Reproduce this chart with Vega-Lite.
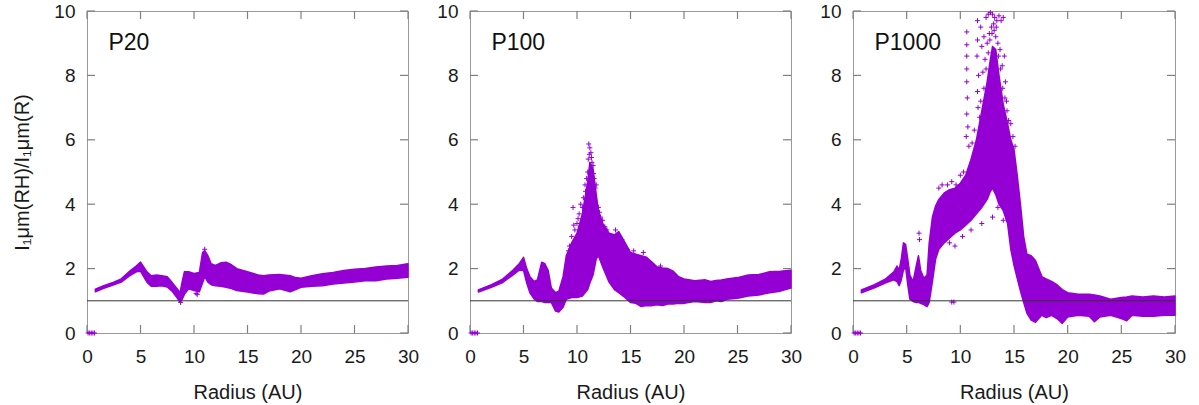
{
  "$schema": "https://vega.github.io/schema/vega-lite/v6.json",
  "background": "white",
  "padding": {"left": 12, "top": 1, "right": 10, "bottom": 5},
  "spacing": 62,
  "bounds": "flush",
  "config": {
    "view": {"stroke": "#999999", "strokeWidth": 1},
    "axis": {"labelFont": "Liberation Sans", "titleFont": "Liberation Sans", "labelFontSize": 19, "titleFontSize": 20, "titleFontWeight": "normal", "labelColor": "#1a1a1a", "titleColor": "#1a1a1a", "ticks": false, "tickSize": 0, "labelFlush": false, "domain": false, "grid": false}
  },
  "datasets": {
    "tx": [{"t":0},{"t":5},{"t":10},{"t":15},{"t":20},{"t":25},{"t":30}],
    "ty": [{"t":0},{"t":2},{"t":4},{"t":6},{"t":8},{"t":10}],
    "band20": [
      {"r":0.78,"lo":1.28,"hi":1.36},{"r":1.5,"lo":1.38,"hi":1.46},{"r":2.5,"lo":1.5,"hi":1.58},{"r":3.2,"lo":1.58,"hi":1.68},{"r":4.0,"lo":1.78,"hi":1.92},{"r":4.6,"lo":1.9,"hi":2.08},{"r":5.0,"lo":1.92,"hi":2.2},{"r":5.3,"lo":1.75,"hi":2.05},{"r":5.6,"lo":1.58,"hi":1.9},{"r":6.0,"lo":1.45,"hi":1.78},{"r":6.5,"lo":1.45,"hi":1.8},{"r":7.0,"lo":1.47,"hi":1.78},{"r":7.5,"lo":1.43,"hi":1.75},{"r":8.0,"lo":1.28,"hi":1.55},{"r":8.4,"lo":1.1,"hi":1.38},{"r":8.7,"lo":0.96,"hi":1.25},{"r":8.9,"lo":1.05,"hi":1.6},{"r":9.1,"lo":1.2,"hi":1.9},{"r":9.5,"lo":1.37,"hi":1.9},{"r":10.0,"lo":1.32,"hi":1.85},{"r":10.5,"lo":1.28,"hi":1.88},{"r":10.8,"lo":1.55,"hi":2.5},{"r":11.0,"lo":1.75,"hi":2.56},{"r":11.3,"lo":1.58,"hi":2.4},{"r":11.6,"lo":1.5,"hi":2.15},{"r":12.0,"lo":1.47,"hi":2.1},{"r":12.5,"lo":1.45,"hi":2.18},{"r":13.0,"lo":1.42,"hi":2.2},{"r":13.5,"lo":1.38,"hi":2.12},{"r":14.0,"lo":1.32,"hi":2.0},{"r":15.0,"lo":1.27,"hi":1.9},{"r":16.0,"lo":1.22,"hi":1.8},{"r":16.5,"lo":1.21,"hi":1.78},{"r":17.0,"lo":1.3,"hi":1.8},{"r":18.0,"lo":1.37,"hi":1.82},{"r":19.0,"lo":1.28,"hi":1.78},{"r":19.5,"lo":1.35,"hi":1.72},{"r":20.0,"lo":1.42,"hi":1.7},{"r":21.0,"lo":1.45,"hi":1.78},{"r":22.0,"lo":1.47,"hi":1.84},{"r":23.0,"lo":1.52,"hi":1.88},{"r":24.0,"lo":1.55,"hi":1.94},{"r":25.0,"lo":1.58,"hi":1.98},{"r":26.0,"lo":1.62,"hi":2.0},{"r":27.0,"lo":1.62,"hi":2.05},{"r":28.0,"lo":1.68,"hi":2.08},{"r":29.0,"lo":1.7,"hi":2.1},{"r":30.0,"lo":1.73,"hi":2.15}
    ],
    "pts20": [
      {"r":0.1,"v":0},{"r":0.25,"v":0},{"r":0.4,"v":0},{"r":0.55,"v":0},{"r":0.7,"v":0},
      {"r":10.3,"v":1.2},{"r":10.2,"v":1.23},{"r":8.75,"v":0.95},{"r":11.0,"v":2.6}
    ],
    "band100": [
      {"r":0.78,"lo":1.27,"hi":1.34},{"r":2.0,"lo":1.42,"hi":1.5},{"r":3.0,"lo":1.56,"hi":1.66},{"r":4.0,"lo":1.8,"hi":1.95},{"r":4.6,"lo":1.95,"hi":2.15},{"r":5.0,"lo":1.95,"hi":2.35},{"r":5.3,"lo":1.55,"hi":2.0},{"r":5.6,"lo":1.25,"hi":1.75},{"r":6.0,"lo":1.05,"hi":1.6},{"r":6.3,"lo":0.98,"hi":1.65},{"r":6.7,"lo":0.98,"hi":2.2},{"r":7.0,"lo":0.95,"hi":2.15},{"r":7.3,"lo":0.95,"hi":1.95},{"r":7.6,"lo":0.95,"hi":1.4},{"r":8.0,"lo":0.68,"hi":1.25},{"r":8.3,"lo":0.65,"hi":1.3},{"r":8.7,"lo":0.8,"hi":1.75},{"r":9.0,"lo":1.05,"hi":2.4},{"r":9.5,"lo":1.1,"hi":2.8},{"r":10.0,"lo":1.1,"hi":3.1},{"r":10.5,"lo":1.15,"hi":3.7},{"r":11.0,"lo":1.35,"hi":4.7},{"r":11.2,"lo":1.55,"hi":5.3},{"r":11.5,"lo":1.8,"hi":5.1},{"r":11.8,"lo":2.3,"hi":4.3},{"r":12.0,"lo":2.4,"hi":3.8},{"r":12.4,"lo":2.05,"hi":3.4},{"r":13.0,"lo":1.58,"hi":3.1},{"r":13.5,"lo":1.35,"hi":3.05},{"r":13.9,"lo":1.25,"hi":3.15},{"r":14.5,"lo":1.1,"hi":2.8},{"r":15.0,"lo":0.95,"hi":2.5},{"r":15.5,"lo":0.92,"hi":2.45},{"r":16.0,"lo":0.82,"hi":2.4},{"r":16.5,"lo":0.85,"hi":2.35},{"r":17.0,"lo":0.85,"hi":2.2},{"r":17.5,"lo":0.88,"hi":2.05},{"r":18.0,"lo":0.85,"hi":2.02},{"r":18.5,"lo":0.9,"hi":2.0},{"r":19.0,"lo":0.9,"hi":1.92},{"r":19.5,"lo":0.92,"hi":1.75},{"r":20.0,"lo":0.92,"hi":1.68},{"r":21.0,"lo":0.98,"hi":1.62},{"r":22.0,"lo":0.95,"hi":1.65},{"r":22.5,"lo":0.95,"hi":1.6},{"r":23.0,"lo":1.0,"hi":1.63},{"r":23.5,"lo":0.98,"hi":1.65},{"r":24.0,"lo":1.05,"hi":1.68},{"r":25.0,"lo":1.08,"hi":1.72},{"r":26.0,"lo":1.15,"hi":1.8},{"r":27.0,"lo":1.18,"hi":1.82},{"r":28.0,"lo":1.25,"hi":1.9},{"r":29.0,"lo":1.3,"hi":1.92},{"r":30.0,"lo":1.4,"hi":1.95}
    ],
    "pts100": [
      {"r":0.1,"v":0},{"r":0.25,"v":0},{"r":0.4,"v":0},{"r":0.55,"v":0},{"r":0.7,"v":0},
      {"r":9.3,"v":2.7},{"r":9.5,"v":3.0},{"r":9.63,"v":3.9},{"r":9.8,"v":3.2},{"r":10.0,"v":3.4},{"r":10.2,"v":3.7},{"r":10.3,"v":3.3},{"r":10.5,"v":3.9},{"r":10.6,"v":4.2},{"r":10.7,"v":3.8},{"r":10.8,"v":4.4},{"r":10.9,"v":4.8},{"r":11.0,"v":5.0},{"r":11.05,"v":5.4},{"r":11.1,"v":5.87},{"r":11.2,"v":5.75},{"r":11.3,"v":5.6},{"r":11.4,"v":5.3},{"r":11.5,"v":5.2},{"r":11.6,"v":4.8},{"r":11.7,"v":4.5},{"r":12.0,"v":3.9},{"r":12.2,"v":3.6},{"r":12.6,"v":3.3},{"r":12.8,"v":3.2},{"r":13.2,"v":3.0},{"r":13.6,"v":3.2},{"r":14.2,"v":2.9},{"r":14.7,"v":2.6},{"r":10.4,"v":2.6},{"r":9.9,"v":2.9},
      {"r":9.2,"v":2.55},{"r":9.7,"v":3.35},{"r":10.1,"v":3.55},{"r":10.35,"v":4.0},{"r":10.75,"v":4.6},{"r":11.15,"v":5.55},{"r":11.35,"v":5.45},{"r":11.55,"v":4.95},{"r":11.8,"v":4.6},{"r":12.1,"v":3.75},{"r":12.4,"v":3.5},{"r":15.3,"v":2.55},{"r":16.2,"v":2.5},{"r":17.8,"v":2.08}
    ],
    "band1000": [
      {"r":0.78,"lo":1.25,"hi":1.34},{"r":2.0,"lo":1.4,"hi":1.5},{"r":3.0,"lo":1.55,"hi":1.67},{"r":3.8,"lo":1.65,"hi":1.9},{"r":4.1,"lo":1.6,"hi":2.08},{"r":4.3,"lo":1.47,"hi":1.95},{"r":4.5,"lo":1.65,"hi":2.3},{"r":4.7,"lo":1.95,"hi":2.8},{"r":4.9,"lo":2.05,"hi":2.75},{"r":5.1,"lo":1.5,"hi":2.3},{"r":5.3,"lo":1.05,"hi":1.8},{"r":5.6,"lo":0.98,"hi":1.6},{"r":5.9,"lo":0.95,"hi":2.1},{"r":6.1,"lo":0.95,"hi":2.4},{"r":6.3,"lo":0.92,"hi":1.95},{"r":6.6,"lo":0.88,"hi":1.7},{"r":6.9,"lo":0.82,"hi":1.8},{"r":7.1,"lo":0.95,"hi":2.8},{"r":7.4,"lo":1.6,"hi":3.6},{"r":7.7,"lo":2.3,"hi":3.95},{"r":8.0,"lo":2.6,"hi":4.15},{"r":8.5,"lo":2.8,"hi":4.35},{"r":9.0,"lo":2.95,"hi":4.45},{"r":9.5,"lo":3.1,"hi":4.5},{"r":10.0,"lo":3.2,"hi":4.65},{"r":10.5,"lo":3.35,"hi":4.9},{"r":11.0,"lo":3.5,"hi":5.4},{"r":11.5,"lo":3.7,"hi":6.0},{"r":12.0,"lo":3.9,"hi":6.9},{"r":12.5,"lo":4.15,"hi":7.8},{"r":12.8,"lo":4.4,"hi":8.5},{"r":13.0,"lo":4.5,"hi":8.9},{"r":13.3,"lo":4.3,"hi":8.8},{"r":13.6,"lo":4.0,"hi":8.0},{"r":14.0,"lo":3.8,"hi":7.1},{"r":14.4,"lo":3.4,"hi":6.5},{"r":14.7,"lo":2.6,"hi":6.0},{"r":15.0,"lo":2.1,"hi":5.7},{"r":15.3,"lo":1.7,"hi":4.9},{"r":15.6,"lo":1.3,"hi":4.0},{"r":15.9,"lo":0.95,"hi":3.0},{"r":16.2,"lo":0.62,"hi":2.45},{"r":16.6,"lo":0.4,"hi":2.4},{"r":17.0,"lo":0.33,"hi":2.25},{"r":17.3,"lo":0.45,"hi":2.0},{"r":17.6,"lo":0.55,"hi":1.75},{"r":18.0,"lo":0.48,"hi":1.68},{"r":18.5,"lo":0.55,"hi":1.6},{"r":19.0,"lo":0.45,"hi":1.5},{"r":19.5,"lo":0.3,"hi":1.35},{"r":20.0,"lo":0.5,"hi":1.25},{"r":21.0,"lo":0.55,"hi":1.2},{"r":22.0,"lo":0.52,"hi":1.2},{"r":22.5,"lo":0.35,"hi":1.18},{"r":23.0,"lo":0.5,"hi":1.15},{"r":24.0,"lo":0.55,"hi":1.05},{"r":25.0,"lo":0.45,"hi":1.1},{"r":25.5,"lo":0.38,"hi":1.12},{"r":26.0,"lo":0.55,"hi":1.15},{"r":27.0,"lo":0.52,"hi":1.12},{"r":28.0,"lo":0.52,"hi":1.15},{"r":29.0,"lo":0.55,"hi":1.12},{"r":30.0,"lo":0.55,"hi":1.15}
    ],
    "pts1000": [
      {"r":0.1,"v":0},{"r":0.25,"v":0},{"r":0.4,"v":0},{"r":0.55,"v":0},{"r":0.7,"v":0},
      {"r":10.6,"v":9.35},{"r":10.6,"v":8.95},{"r":10.6,"v":8.6},{"r":10.6,"v":8.2},{"r":10.6,"v":7.8},{"r":10.65,"v":7.3},{"r":10.6,"v":6.8},{"r":10.7,"v":6.4},{"r":10.55,"v":6.1},{"r":10.8,"v":5.8},
      {"r":11.6,"v":9.7},{"r":11.6,"v":9.1},{"r":11.55,"v":8.6},{"r":11.7,"v":8.0},{"r":11.6,"v":7.5},{"r":11.65,"v":7.0},{"r":11.8,"v":6.7},{"r":11.9,"v":9.5},{"r":12.0,"v":8.9},{"r":12.1,"v":8.1},{"r":12.2,"v":9.2},{"r":12.3,"v":8.5},{"r":12.4,"v":9.8},{"r":12.5,"v":9.0},{"r":12.6,"v":9.9},{"r":12.7,"v":9.3},{"r":12.8,"v":9.95},{"r":12.9,"v":9.5},{"r":13.0,"v":9.9},{"r":13.1,"v":9.6},{"r":13.2,"v":9.8},{"r":13.3,"v":9.2},{"r":13.4,"v":9.7},{"r":13.5,"v":9.0},{"r":13.6,"v":9.85},{"r":13.7,"v":8.8},{"r":13.8,"v":9.7},{"r":13.9,"v":8.3},{"r":14.0,"v":9.8},{"r":14.1,"v":8.6},{"r":14.2,"v":7.8},{"r":14.3,"v":7.2},{"r":14.5,"v":6.6},{"r":14.7,"v":6.5},{"r":14.9,"v":6.1},{"r":15.1,"v":5.8},
      {"r":12.2,"v":7.6},{"r":12.4,"v":8.2},{"r":12.6,"v":8.7},{"r":12.75,"v":9.1},{"r":12.95,"v":9.3},{"r":13.15,"v":9.4},{"r":13.35,"v":9.5},{"r":13.55,"v":8.6},{"r":13.75,"v":8.2},{"r":13.95,"v":7.6},{"r":14.15,"v":7.3},{"r":14.35,"v":6.9},{"r":11.3,"v":6.3},{"r":11.9,"v":7.2},{"r":11.1,"v":5.9},
      {"r":8.0,"v":4.5},{"r":8.3,"v":4.6},{"r":8.8,"v":4.6},{"r":9.2,"v":4.7},{"r":9.6,"v":4.6},{"r":10.0,"v":4.9},{"r":10.3,"v":5.0},{"r":9.0,"v":2.8},{"r":9.5,"v":2.7},{"r":10.2,"v":3.0},{"r":11.0,"v":3.2},{"r":12.0,"v":3.4},{"r":13.0,"v":3.6},{"r":13.5,"v":3.9},{"r":14.0,"v":3.5},
      {"r":9.2,"v":0.96},{"r":9.4,"v":0.96},{"r":6.15,"v":3.1},{"r":6.2,"v":2.9}
    ]
  },
  "hconcat": [
    {
      "width": 321, "height": 322,
      "layer": [
        {"data": {"name": "tx"}, "mark": {"type": "rule", "color": "#808080", "strokeWidth": 1.2}, "encoding": {"x": {"field": "t", "type": "quantitative", "axis": null}, "y": {"datum": 0, "type": "quantitative", "axis": null}, "y2": {"datum": 0.25}}},
        {"data": {"name": "tx"}, "mark": {"type": "rule", "color": "#808080", "strokeWidth": 1.2}, "encoding": {"x": {"field": "t", "type": "quantitative", "axis": null}, "y": {"datum": 9.75, "type": "quantitative", "axis": null}, "y2": {"datum": 10}}},
        {"data": {"name": "ty"}, "mark": {"type": "rule", "color": "#808080", "strokeWidth": 1.2}, "encoding": {"y": {"field": "t", "type": "quantitative", "axis": null}, "x": {"datum": 0, "type": "quantitative", "axis": null}, "x2": {"datum": 0.75}}},
        {"data": {"name": "ty"}, "mark": {"type": "rule", "color": "#808080", "strokeWidth": 1.2}, "encoding": {"y": {"field": "t", "type": "quantitative", "axis": null}, "x": {"datum": 29.25, "type": "quantitative", "axis": null}, "x2": {"datum": 30}}},
        {"data": {"name": "band20"}, "mark": {"type": "area", "color": "#9400D3", "stroke": "#9400D3", "strokeWidth": 1.5, "strokeJoin": "round"},
         "encoding": {"x": {"field": "r", "type": "quantitative", "scale": {"domain": [0, 30]}, "axis": {"title": "Radius (AU)", "values": [0,5,10,15,20,25,30], "labelPadding": 14, "titlePadding": 16}},
                      "y": {"field": "lo", "type": "quantitative", "scale": {"domain": [0, 10]}, "axis": {"title": "I₁μm(RH)/I₁μm(R)", "values": [0,2,4,6,8,10], "labelPadding": 12, "titlePadding": 21}},
                      "y2": {"field": "hi"}}},
        {"data": {"name": "pts20"}, "mark": {"type": "point", "shape": "M-1,0H1M0,-1V1", "color": "#9400D3", "strokeWidth": 1, "size": 25, "opacity": 1, "filled": false},
         "encoding": {"x": {"field": "r", "type": "quantitative", "axis": null}, "y": {"field": "v", "type": "quantitative", "axis": null}}},
        {"data": {"values": [{"y": 1}]}, "mark": {"type": "rule", "color": "#333333", "strokeWidth": 1},
         "encoding": {"y": {"field": "y", "type": "quantitative", "axis": null}}},
        {"data": {"values": [{"label": "P20"}]}, "mark": {"type": "text", "align": "left", "baseline": "middle", "fontSize": 23, "font": "Liberation Sans", "color": "#111111"},
         "encoding": {"text": {"field": "label"}, "x": {"datum": 2, "type": "quantitative", "axis": null}, "y": {"datum": 9, "type": "quantitative", "axis": null}}}
      ],
      "resolve": {"axis": {"x": "independent", "y": "independent"}}
    },
    {
      "width": 321, "height": 322,
      "layer": [
        {"data": {"name": "tx"}, "mark": {"type": "rule", "color": "#808080", "strokeWidth": 1.2}, "encoding": {"x": {"field": "t", "type": "quantitative", "axis": null}, "y": {"datum": 0, "type": "quantitative", "axis": null}, "y2": {"datum": 0.25}}},
        {"data": {"name": "tx"}, "mark": {"type": "rule", "color": "#808080", "strokeWidth": 1.2}, "encoding": {"x": {"field": "t", "type": "quantitative", "axis": null}, "y": {"datum": 9.75, "type": "quantitative", "axis": null}, "y2": {"datum": 10}}},
        {"data": {"name": "ty"}, "mark": {"type": "rule", "color": "#808080", "strokeWidth": 1.2}, "encoding": {"y": {"field": "t", "type": "quantitative", "axis": null}, "x": {"datum": 0, "type": "quantitative", "axis": null}, "x2": {"datum": 0.75}}},
        {"data": {"name": "ty"}, "mark": {"type": "rule", "color": "#808080", "strokeWidth": 1.2}, "encoding": {"y": {"field": "t", "type": "quantitative", "axis": null}, "x": {"datum": 29.25, "type": "quantitative", "axis": null}, "x2": {"datum": 30}}},
        {"data": {"name": "band100"}, "mark": {"type": "area", "color": "#9400D3", "stroke": "#9400D3", "strokeWidth": 1.5, "strokeJoin": "round"},
         "encoding": {"x": {"field": "r", "type": "quantitative", "scale": {"domain": [0, 30]}, "axis": {"title": "Radius (AU)", "values": [0,5,10,15,20,25,30], "labelPadding": 14, "titlePadding": 16}},
                      "y": {"field": "lo", "type": "quantitative", "scale": {"domain": [0, 10]}, "axis": {"title": null, "values": [0,2,4,6,8,10], "labelPadding": 12}},
                      "y2": {"field": "hi"}}},
        {"data": {"name": "pts100"}, "mark": {"type": "point", "shape": "M-1,0H1M0,-1V1", "color": "#9400D3", "strokeWidth": 1, "size": 25, "opacity": 1, "filled": false},
         "encoding": {"x": {"field": "r", "type": "quantitative", "axis": null}, "y": {"field": "v", "type": "quantitative", "axis": null}}},
        {"data": {"values": [{"y": 1}]}, "mark": {"type": "rule", "color": "#333333", "strokeWidth": 1},
         "encoding": {"y": {"field": "y", "type": "quantitative", "axis": null}}},
        {"data": {"values": [{"label": "P100"}]}, "mark": {"type": "text", "align": "left", "baseline": "middle", "fontSize": 23, "font": "Liberation Sans", "color": "#111111"},
         "encoding": {"text": {"field": "label"}, "x": {"datum": 2, "type": "quantitative", "axis": null}, "y": {"datum": 9, "type": "quantitative", "axis": null}}}
      ],
      "resolve": {"axis": {"x": "independent", "y": "independent"}}
    },
    {
      "width": 322, "height": 322,
      "layer": [
        {"data": {"name": "tx"}, "mark": {"type": "rule", "color": "#808080", "strokeWidth": 1.2}, "encoding": {"x": {"field": "t", "type": "quantitative", "axis": null}, "y": {"datum": 0, "type": "quantitative", "axis": null}, "y2": {"datum": 0.25}}},
        {"data": {"name": "tx"}, "mark": {"type": "rule", "color": "#808080", "strokeWidth": 1.2}, "encoding": {"x": {"field": "t", "type": "quantitative", "axis": null}, "y": {"datum": 9.75, "type": "quantitative", "axis": null}, "y2": {"datum": 10}}},
        {"data": {"name": "ty"}, "mark": {"type": "rule", "color": "#808080", "strokeWidth": 1.2}, "encoding": {"y": {"field": "t", "type": "quantitative", "axis": null}, "x": {"datum": 0, "type": "quantitative", "axis": null}, "x2": {"datum": 0.75}}},
        {"data": {"name": "ty"}, "mark": {"type": "rule", "color": "#808080", "strokeWidth": 1.2}, "encoding": {"y": {"field": "t", "type": "quantitative", "axis": null}, "x": {"datum": 29.25, "type": "quantitative", "axis": null}, "x2": {"datum": 30}}},
        {"data": {"name": "band1000"}, "mark": {"type": "area", "color": "#9400D3", "stroke": "#9400D3", "strokeWidth": 1.5, "strokeJoin": "round"},
         "encoding": {"x": {"field": "r", "type": "quantitative", "scale": {"domain": [0, 30]}, "axis": {"title": "Radius (AU)", "values": [0,5,10,15,20,25,30], "labelPadding": 14, "titlePadding": 16}},
                      "y": {"field": "lo", "type": "quantitative", "scale": {"domain": [0, 10]}, "axis": {"title": null, "values": [0,2,4,6,8,10], "labelPadding": 12}},
                      "y2": {"field": "hi"}}},
        {"data": {"name": "pts1000"}, "mark": {"type": "point", "shape": "M-1,0H1M0,-1V1", "color": "#9400D3", "strokeWidth": 1, "size": 25, "opacity": 1, "filled": false},
         "encoding": {"x": {"field": "r", "type": "quantitative", "axis": null}, "y": {"field": "v", "type": "quantitative", "axis": null}}},
        {"data": {"values": [{"y": 1}]}, "mark": {"type": "rule", "color": "#333333", "strokeWidth": 1},
         "encoding": {"y": {"field": "y", "type": "quantitative", "axis": null}}},
        {"data": {"values": [{"label": "P1000"}]}, "mark": {"type": "text", "align": "left", "baseline": "middle", "fontSize": 23, "font": "Liberation Sans", "color": "#111111"},
         "encoding": {"text": {"field": "label"}, "x": {"datum": 2, "type": "quantitative", "axis": null}, "y": {"datum": 9, "type": "quantitative", "axis": null}}}
      ],
      "resolve": {"axis": {"x": "independent", "y": "independent"}}
    }
  ]
}
